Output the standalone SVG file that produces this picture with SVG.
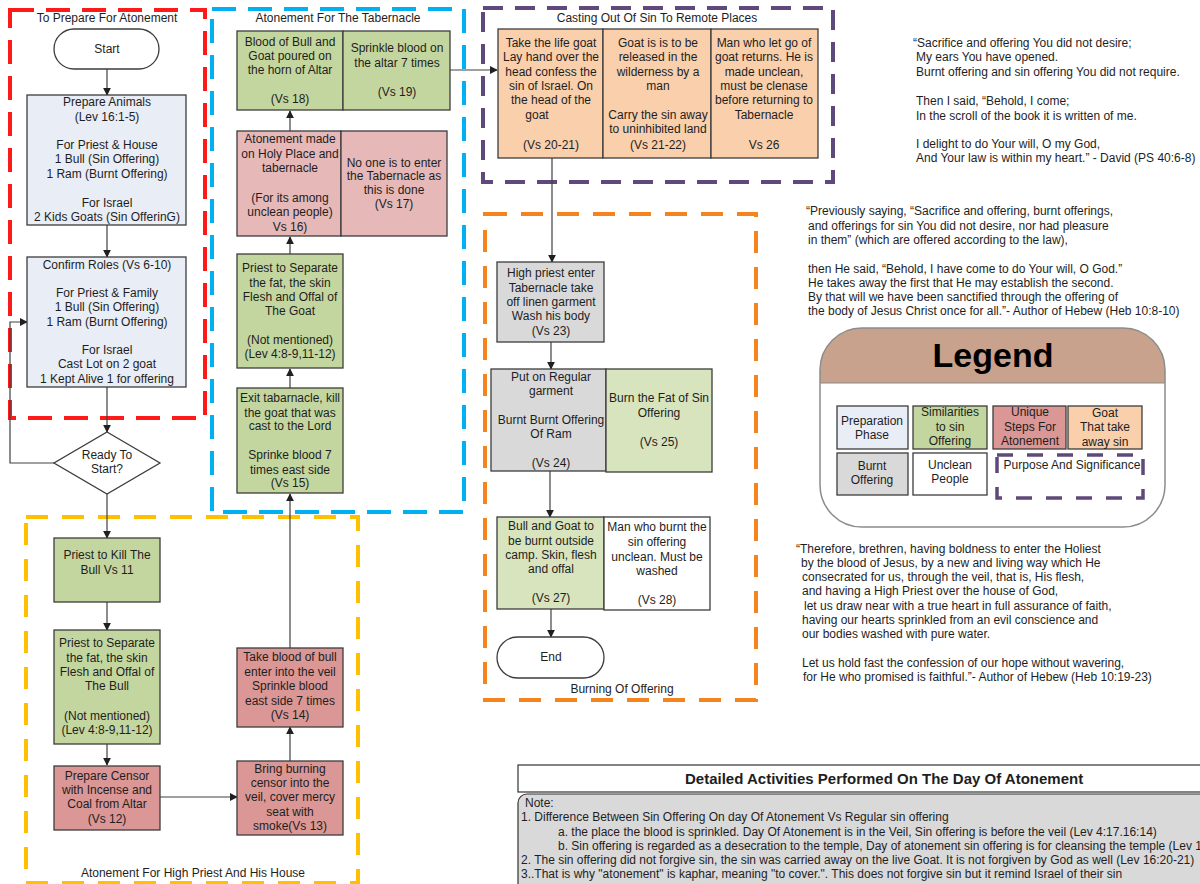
<svg xmlns="http://www.w3.org/2000/svg" width="1200" height="884" viewBox="0 0 1200 884">
<style>
text{font-family:"Liberation Sans",Arial,sans-serif;font-size:12px;fill:#1e1e1e}
.c{text-anchor:middle}
.box{stroke:#3c3c3c;stroke-width:1.3}
.prep{fill:#e9edf5}
.sim{fill:#c4d69f}
.siml{fill:#d8e4bd}
.uniq{fill:#da9795}
.uniql{fill:#e6b8b7}
.goat{fill:#f9cfac}
.burnt{fill:#d9d9d9}
.white{fill:#ffffff}
.conn{stroke:#404040;stroke-width:1.2;fill:none}
.arr{marker-end:url(#arr)}
.grp{fill:none;stroke-width:4}
.lg{font-size:12px}
.q{font-size:12px}
.n{font-size:12px}
</style>
<defs>
<marker id="arr" viewBox="0 0 10 10" refX="9" refY="5" markerWidth="8" markerHeight="8" markerUnits="userSpaceOnUse" orient="auto">
<path d="M0,0 L10,5 L0,10 z" fill="#202020"/>
</marker>
<clipPath id="legclip"><rect x="820" y="328" width="345" height="199" rx="42"/></clipPath>
</defs>

<!-- group frames -->
<g id="frames">
<rect x="10" y="10" width="195" height="408" class="grp" stroke="#ff1a1a" stroke-dasharray="24 12"/>
<rect x="212" y="9" width="252" height="503" class="grp" stroke="#00b0f0" stroke-dasharray="24 12"/>
<rect x="483" y="8" width="350" height="174" class="grp" stroke="#5f497a" stroke-dasharray="20 12"/>
<rect x="485" y="214" width="271" height="486" class="grp" stroke="#f5841f" stroke-dasharray="22 14" stroke-width="3.5"/>
<rect x="26" y="517" width="332" height="366" class="grp" stroke="#ffc000" stroke-dasharray="22 14" stroke-width="3.5"/>
<text class="c" x="107" y="22">To Prepare For Atonement</text>
<text class="c" x="338" y="22">Atonement For The Tabernacle</text>
<text class="c" x="657" y="22">Casting Out Of Sin To Remote Places</text>
<text class="c" x="622" y="693">Burning Of Offering</text>
<text class="c" x="193" y="877">Atonement For High Priest And His House</text>
</g>

<!-- connectors -->
<g id="connectors">
<path class="conn arr" d="M107 69 V95"/>
<path class="conn arr" d="M107 225 V257"/>
<path class="conn arr" d="M107 387 V432"/>
<path class="conn arr" d="M54 463 H10 V322 H27"/>
<path class="conn arr" d="M107 494 V538"/>
<path class="conn arr" d="M107 602 V630"/>
<path class="conn arr" d="M107 744 V765"/>
<path class="conn arr" d="M160 797 H237"/>
<path class="conn arr" d="M290 761 V727"/>
<path class="conn arr" d="M290 648 V494"/>
<path class="conn arr" d="M290 388 V369"/>
<path class="conn arr" d="M290 275 V237"/>
<path class="conn arr" d="M290 131 V111"/>
<path class="conn arr" d="M450 70 H497"/>
<path class="conn arr" d="M552 158 V262"/>
<path class="conn arr" d="M551 342 V369"/>
<path class="conn arr" d="M550 471 V517"/>
<path class="conn arr" d="M551 609 V637"/>
</g>

<!-- preparation -->
<g id="start">
<rect x="54" y="29" width="105" height="40" rx="20" class="box white"/>
<text class="c" x="107" y="53">Start</text>
</g>
<g id="prepare-animals">
<rect x="27" y="95" width="159" height="130" class="box prep"/>
<text class="c" x="107" y="106">Prepare Animals</text>
<text class="c" x="107" y="121">(Lev 16:1-5)</text>
<text class="c" x="107" y="149">For Priest &amp; House</text>
<text class="c" x="107" y="163">1 Bull (Sin Offering)</text>
<text class="c" x="107" y="178">1 Ram (Burnt Offering)</text>
<text class="c" x="107" y="207">For Israel</text>
<text class="c" x="107" y="221">2 Kids Goats (Sin OfferinG)</text>
</g>
<g id="confirm-roles">
<rect x="27" y="257" width="159" height="130" class="box prep"/>
<text class="c" x="107" y="269">Confirm Roles (Vs 6-10)</text>
<text class="c" x="107" y="297">For Priest &amp; Family</text>
<text class="c" x="107" y="311">1 Bull (Sin Offering)</text>
<text class="c" x="107" y="326">1 Ram (Burnt Offering)</text>
<text class="c" x="107" y="354">For Israel</text>
<text class="c" x="107" y="368">Cast Lot on 2 goat</text>
<text class="c" x="107" y="383">1 Kept Alive 1 for offering</text>
</g>
<g id="ready">
<polygon points="107,432 160,463 107,494 54,463" class="box white"/>
<text class="c" x="107" y="459">Ready To</text>
<text class="c" x="107" y="473">Start?</text>
</g>

<!-- high priest -->
<g id="kill-bull">
<rect x="54" y="538" width="106" height="64" class="box sim"/>
<text class="c" x="107" y="559">Priest to Kill The</text>
<text class="c" x="107" y="574">Bull Vs 11</text>
</g>
<g id="separate-bull">
<rect x="54" y="630" width="106" height="114" class="box sim"/>
<text class="c" x="107" y="647">Priest to Separate</text>
<text class="c" x="107" y="662">the fat,  the skin</text>
<text class="c" x="107" y="676">Flesh and Offal of</text>
<text class="c" x="107" y="690">The Bull</text>
<text class="c" x="107" y="720">(Not mentioned)</text>
<text class="c" x="107" y="734">(Lev 4:8-9,11-12)</text>
</g>
<g id="censor">
<rect x="54" y="766" width="106" height="64" class="box uniq"/>
<text class="c" x="107" y="780">Prepare Censor</text>
<text class="c" x="107" y="794">with Incense and</text>
<text class="c" x="107" y="808">Coal from Altar</text>
<text class="c" x="107" y="823">(Vs 12)</text>
</g>
<g id="bring-censor">
<rect x="237" y="761" width="106" height="74" class="box uniq"/>
<text class="c" x="290" y="773">Bring burning</text>
<text class="c" x="290" y="787">censor into the</text>
<text class="c" x="290" y="801">veil, cover mercy</text>
<text class="c" x="290" y="816">seat with</text>
<text class="c" x="290" y="830">smoke(Vs 13)</text>
</g>
<g id="blood-bull">
<rect x="237" y="648" width="106" height="79" class="box uniq"/>
<text class="c" x="290" y="661">Take blood of bull</text>
<text class="c" x="290" y="676">enter into the veil</text>
<text class="c" x="290" y="690">Sprinkle blood</text>
<text class="c" x="290" y="705">east side 7 times</text>
<text class="c" x="290" y="719">(Vs 14)</text>
</g>

<!-- tabernacle -->
<g id="exit-tabernacle">
<rect x="237" y="388" width="106" height="105" class="box sim"/>
<text class="c" x="290" y="402">Exit tabarnacle, kill</text>
<text class="c" x="290" y="417">the goat that was</text>
<text class="c" x="290" y="430">cast to the Lord</text>
<text class="c" x="290" y="459">Sprinke blood 7</text>
<text class="c" x="290" y="474">times east side</text>
<text class="c" x="290" y="487">(Vs 15)</text>
</g>
<g id="separate-goat">
<rect x="237" y="254" width="106" height="114" class="box sim"/>
<text class="c" x="290" y="272">Priest to Separate</text>
<text class="c" x="290" y="287">the fat,  the skin</text>
<text class="c" x="290" y="301">Flesh and Offal of</text>
<text class="c" x="290" y="315">The Goat</text>
<text class="c" x="290" y="344">(Not mentioned)</text>
<text class="c" x="290" y="358">(Lev 4:8-9,11-12)</text>
</g>
<g id="atonement-holy">
<rect x="237" y="131" width="104" height="105" class="box uniql"/>
<text class="c" x="290" y="143">Atonement made</text>
<text class="c" x="290" y="158">on Holy Place and</text>
<text class="c" x="290" y="172">tabernacle</text>
<text class="c" x="290" y="202">(For its among</text>
<text class="c" x="290" y="216">unclean people)</text>
<text class="c" x="290" y="231">Vs 16)</text>
</g>
<g id="no-one">
<rect x="341" y="131" width="106" height="105" class="box uniql"/>
<text class="c" x="394" y="167">No one is to enter</text>
<text class="c" x="394" y="180">the Tabernacle as</text>
<text class="c" x="394" y="194">this is done</text>
<text class="c" x="394" y="208">(Vs 17)</text>
</g>
<g id="blood-horn">
<rect x="237" y="31" width="106" height="79" class="box sim"/>
<text class="c" x="290" y="46">Blood of Bull and</text>
<text class="c" x="290" y="60">Goat poured on</text>
<text class="c" x="290" y="74">the horn of Altar</text>
<text class="c" x="290" y="103">(Vs 18)</text>
</g>
<g id="sprinkle-altar">
<rect x="343" y="31" width="107" height="79" class="box sim"/>
<text class="c" x="397" y="52">Sprinkle blood on</text>
<text class="c" x="397" y="67">the altar 7 times</text>
<text class="c" x="397" y="96">(Vs 19)</text>
</g>

<!-- casting out -->
<g id="live-goat">
<rect x="498" y="29" width="105" height="129" class="box goat"/>
<text class="c" x="551" y="47">Take the life goat</text>
<text class="c" x="551" y="61">Lay hand over the</text>
<text class="c" x="551" y="76">head confess the</text>
<text class="c" x="551" y="90">sin of Israel. On</text>
<text class="c" x="551" y="104">the head of the</text>
<text class="c" x="537" y="119">goat</text>
<text class="c" x="551" y="149">(Vs 20-21)</text>
</g>
<g id="released">
<rect x="603" y="29" width="108" height="129" class="box goat"/>
<text class="c" x="658" y="47">Goat is is to be</text>
<text class="c" x="658" y="61">released in the</text>
<text class="c" x="658" y="76">wilderness by a</text>
<text class="c" x="658" y="90">man</text>
<text class="c" x="658" y="119">Carry the sin away</text>
<text class="c" x="658" y="133">to uninhibited land</text>
<text class="c" x="658" y="149">(Vs 21-22)</text>
</g>
<g id="man-returns">
<rect x="711" y="29" width="107" height="129" class="box goat"/>
<text class="c" x="764" y="47">Man who let go of</text>
<text class="c" x="764" y="61">goat returns. He is</text>
<text class="c" x="764" y="76">made unclean,</text>
<text class="c" x="764" y="90">must be clenase</text>
<text class="c" x="764" y="104">before returning to</text>
<text class="c" x="764" y="119">Tabernacle</text>
<text class="c" x="764" y="149">Vs 26</text>
</g>

<!-- burning -->
<g id="high-priest-enter">
<rect x="497" y="262" width="107" height="80" class="box burnt"/>
<text class="c" x="551" y="277">High priest enter</text>
<text class="c" x="551" y="292">Tabernacle take</text>
<text class="c" x="551" y="306">off linen garment</text>
<text class="c" x="551" y="320">Wash his body</text>
<text class="c" x="551" y="335">(Vs 23)</text>
</g>
<g id="regular-garment">
<rect x="491" y="369" width="115" height="102" class="box burnt"/>
<text class="c" x="551" y="381">Put on Regular</text>
<text class="c" x="551" y="395">garment</text>
<text class="c" x="551" y="424">Burnt Burnt Offering</text>
<text class="c" x="551" y="438">Of Ram</text>
<text class="c" x="551" y="467">(Vs 24)</text>
</g>
<g id="burn-fat">
<rect x="606" y="369" width="106" height="103" class="box siml"/>
<text class="c" x="659" y="402">Burn the Fat of Sin</text>
<text class="c" x="659" y="417">Offering</text>
<text class="c" x="659" y="446">(Vs 25)</text>
</g>
<g id="burnt-outside">
<rect x="497" y="517" width="107" height="92" class="box siml"/>
<text class="c" x="551" y="530">Bull and Goat to</text>
<text class="c" x="551" y="545">be burnt outside</text>
<text class="c" x="551" y="559">camp. Skin, flesh</text>
<text class="c" x="551" y="573">and offal</text>
<text class="c" x="551" y="602">(Vs 27)</text>
</g>
<g id="man-burnt">
<rect x="604" y="517" width="106" height="93" class="box white"/>
<text class="c" x="657" y="531">Man who burnt the</text>
<text class="c" x="657" y="546">sin offering</text>
<text class="c" x="657" y="561">unclean. Must be</text>
<text class="c" x="657" y="575">washed</text>
<text class="c" x="657" y="604">(Vs 28)</text>
</g>
<g id="end">
<rect x="497" y="637" width="107" height="41" rx="20.5" class="box white"/>
<text class="c" x="551" y="661">End</text>
</g>

<!-- quotes -->
<g id="quote-ps40" class="q">
<text x="913" y="47">“Sacrifice and offering You did not desire;</text>
<text x="916" y="61">My ears You have opened.</text>
<text x="916" y="76">Burnt offering and sin offering You did not require.</text>
<text x="916" y="105">Then I said, “Behold, I come;</text>
<text x="916" y="120">In the scroll of the book it is written of me.</text>
<text x="916" y="148">I delight to do Your will, O my God,</text>
<text x="916" y="162">And Your law is within my heart.” - David (PS 40:6-8)</text>
</g>
<g id="quote-heb10-8" class="q">
<text x="806" y="215">“Previously saying, “Sacrifice and offering, burnt offerings,</text>
<text x="808" y="230">and offerings for sin You did not desire, nor had pleasure</text>
<text x="808" y="244">in them” (which are offered according to the law),</text>
<text x="808" y="273">then He said, “Behold, I have come to do Your will, O God.”</text>
<text x="808" y="287">He takes away the first that He may establish the second.</text>
<text x="808" y="301">By that will we have been sanctified through the offering of</text>
<text x="808" y="315">the body of Jesus Christ once for all.”- Author of Hebew (Heb 10:8-10)</text>
</g>
<g id="quote-heb10-19" class="q">
<text x="796" y="553">“Therefore, brethren, having boldness to enter the Holiest</text>
<text x="801" y="567">by the blood of Jesus, by a new and living way which He</text>
<text x="802" y="581">consecrated for us, through the veil, that is, His flesh,</text>
<text x="802" y="595">and having a High Priest over the house of God,</text>
<text x="804" y="610">let us draw near with a true heart in full assurance of faith,</text>
<text x="802" y="624">having our hearts sprinkled from an evil conscience and</text>
<text x="802" y="638">our bodies washed with pure water.</text>
<text x="802" y="667">Let us hold fast the confession of our hope without wavering,</text>
<text x="803" y="681">for He who promised is faithful.”- Author of Hebew (Heb 10:19-23)</text>
</g>

<!-- legend -->
<g id="legend">
<rect x="820" y="328" width="345" height="199" rx="42" fill="#ffffff"/>
<rect x="820" y="328" width="345" height="55" fill="#c9a28d" clip-path="url(#legclip)"/>
<line x1="820" y1="383" x2="1165" y2="383" stroke="#8a8a8a" stroke-width="1.2"/>
<rect x="820" y="328" width="345" height="199" rx="42" fill="none" stroke="#8c8c8c" stroke-width="1.5"/>
<text class="c" x="993" y="367" style="font-size:34px;font-weight:bold;fill:#000">Legend</text>
<rect x="837" y="406" width="71" height="43" class="box prep"/>
<text class="c lg" x="872" y="425">Preparation</text>
<text class="c lg" x="872" y="439">Phase</text>
<rect x="913" y="406" width="74" height="43" class="box sim"/>
<text class="c lg" x="950" y="416">Similarities</text>
<text class="c lg" x="950" y="431">to sin</text>
<text class="c lg" x="950" y="445">Offering</text>
<rect x="993" y="406" width="73" height="43" class="box uniq"/>
<text class="c lg" x="1030" y="416">Unique</text>
<text class="c lg" x="1030" y="431">Steps For</text>
<text class="c lg" x="1030" y="445">Atonement</text>
<rect x="1068" y="406" width="74" height="43" class="box goat"/>
<text class="c lg" x="1105" y="417">Goat</text>
<text class="c lg" x="1105" y="431">That take</text>
<text class="c lg" x="1105" y="446">away sin</text>
<rect x="837" y="453" width="71" height="42" class="box burnt"/>
<text class="c lg" x="872" y="470">Burnt</text>
<text class="c lg" x="872" y="484">Offering</text>
<rect x="913" y="453" width="74" height="42" class="box white"/>
<text class="c lg" x="950" y="469">Unclean</text>
<text class="c lg" x="950" y="483">People</text>
<rect x="997" y="455" width="146" height="43" fill="none" stroke="#5f497a" stroke-width="3.5" stroke-dasharray="16 14"/>
<text class="c lg" x="1072" y="469">Purpose And Significance</text>
</g>

<!-- title and notes -->
<g id="title">
<rect x="518" y="765" width="700" height="27" fill="#ffffff" stroke="#333" stroke-width="1.2"/>
<text x="685" y="784" style="font-size:15px;font-weight:bold">Detailed Activities Performed  On The Day Of Atonement</text>
</g>
<g id="notes">
<rect x="518" y="794" width="700" height="110" rx="9" fill="#d9d9d9" stroke="#333" stroke-width="1.2"/>
<text class="n" x="525" y="807">Note:</text>
<text class="n" x="521" y="821">1. Difference Between Sin Offering On day Of Atonement Vs Regular sin offering</text>
<text class="n" x="558" y="836">a. the place the blood is sprinkled. Day Of Atonement is in the Veil, Sin offering is before the veil (Lev 4:17.16:14)</text>
<text class="n" x="558" y="850">b. Sin offering is regarded as a desecration to the temple, Day of atonement sin offering is for cleansing the temple (Lev 1</text>
<text class="n" x="521" y="864">2. The sin offering did not forgive sin, the sin was carried away on the live Goat. It is not forgiven by God as well (Lev 16:20-21)</text>
<text class="n" x="521" y="878">3..That is why "atonement" is kaphar, meaning "to cover.". This does not forgive sin but it remind Israel of their sin</text>
</g>
</svg>
